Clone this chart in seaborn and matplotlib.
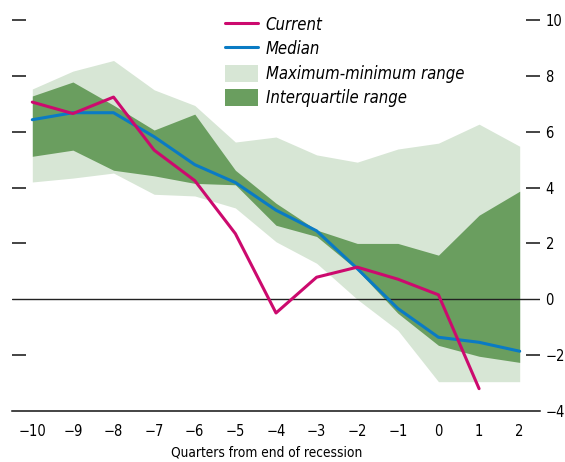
import numpy as np
import pandas as pd
import matplotlib
matplotlib.use("Agg")
import matplotlib.pyplot as plt
from matplotlib.patches import Patch
from matplotlib.lines import Line2D
from matplotlib.ticker import MultipleLocator
import seaborn as sns

sns.set_style("white")
plt.rcParams['font.family'] = ['DejaVu Sans']
plt.rcParams['font.stretch'] = 'condensed'
plt.rcParams['text.color'] = 'black'
plt.rcParams['xtick.color'] = 'black'
plt.rcParams['ytick.color'] = 'black'
plt.rcParams['axes.labelcolor'] = 'black'

# quarters from end of recession
quarters = [-10, -9, -8, -7, -6, -5, -4, -3, -2, -1, 0, 1, 2]

current = [7.06, 6.65, 7.24, 5.34, 4.25, 2.35, -0.49, 0.79, 1.15, 0.72, 0.16, -3.2]
median = [6.43, 6.68, 6.68, 5.82, 4.82, 4.18, 3.19, 2.45, 1.1, -0.33, -1.36, -1.54, -1.86]

range_max = [7.53, 8.17, 8.55, 7.5, 6.94, 5.63, 5.81, 5.17, 4.91, 5.38, 5.59, 6.27, 5.48]
range_min = [4.2, 4.34, 4.52, 3.76, 3.7, 3.27, 2.06, 1.29, 0.0, -1.11, -2.95, -2.95, -2.95]

iqr_hi = [7.28, 7.78, 6.95, 6.06, 6.63, 4.62, 3.44, 2.48, 2.0, 2.0, 1.58, 3.01, 3.87]
iqr_lo = [5.12, 5.34, 4.62, 4.42, 4.15, 4.1, 2.65, 2.25, 1.05, -0.5, -1.65, -2.04, -2.26]

c_cur = "#CC0A6E"
c_med = "#0A7BC4"
c_light = "#D7E6D5"
c_dark = "#6A9E5F"

fig = plt.figure(figsize=(5.65, 4.62), dpi=100)
ax = fig.add_axes([12/565, 51/462, 528/565, 391/462])

ax.fill_between(quarters, range_min, range_max, color=c_light, lw=0, zorder=1)
ax.fill_between(quarters, iqr_lo, iqr_hi, color=c_dark, lw=0, zorder=2)
ax.axhline(0, color="#222222", lw=1, zorder=3)

sns.lineplot(x=quarters, y=median, ax=ax, color=c_med, lw=2.2, zorder=4)
sns.lineplot(x=quarters[:len(current)], y=current, ax=ax, color=c_cur, lw=2.2, zorder=5)

ax.set_xlim(-10.5, 2.5)
ax.set_ylim(-4, 10)

for s in ["left", "right", "top"]:
    ax.spines[s].set_visible(False)
ax.spines["bottom"].set_color("#111111")
ax.spines["bottom"].set_linewidth(1.1)

ax.set_xticks(quarters)
ax.set_xticklabels(["\u2212%d" % -q if q < 0 else str(q) for q in quarters])
ax.xaxis.set_minor_locator(MultipleLocator(1, offset=0.5))
ax.tick_params(axis="x", which="major", length=0, labelsize=10.5, pad=9)
ax.tick_params(axis="x", which="minor", direction="in", length=7, width=1.1, color="#111111")

yt = [-4, -2, 0, 2, 4, 6, 8, 10]
ax.set_yticks(yt)
ax.set_yticklabels(["\u2212%d" % -v if v < 0 else str(v) for v in yt])
ax.tick_params(axis="y", left=True, right=True, labelleft=False, labelright=True,
               direction="in", length=10, width=1.1, color="#111111", labelsize=10.5, pad=4)
for t in ax.yaxis.get_major_ticks():
    if t.get_loc() in (-4, 0):
        t.tick1line.set_visible(False)
        t.tick2line.set_visible(False)

ax.set_xlabel("Quarters from end of recession", fontsize=9.8)
ax.xaxis.set_label_coords(0.483, -0.087)
ax.set_ylabel("")

handles = [
    Line2D([0], [0], color=c_cur, lw=2.2),
    Line2D([0], [0], color=c_med, lw=2.2),
    Patch(facecolor=c_light, edgecolor="none"),
    Patch(facecolor=c_dark, edgecolor="none"),
]
labels = ["Current", "Median", "Maximum-minimum range", "Interquartile range"]
leg = ax.legend(handles, labels, loc="upper left", bbox_to_anchor=(218/565, 1 - 9/462),
                bbox_transform=fig.transFigure, frameon=False, fontsize=12,
                handlelength=2.0, handleheight=1.2, labelspacing=0.38, borderaxespad=0,
                handletextpad=0.45)
for t in leg.get_texts():
    t.set_fontstyle("italic")

fig.savefig("out.png", dpi=100)
